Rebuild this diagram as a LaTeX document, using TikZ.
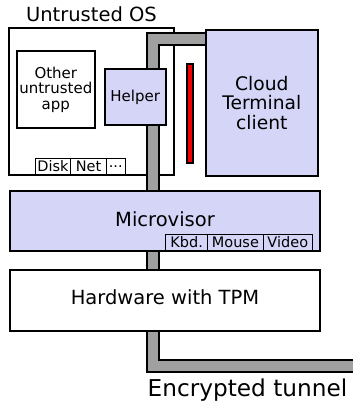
\documentclass[tikz,border=0pt]{standalone}
\usepackage{fontspec}
\setmainfont{DejaVu Sans}
\usepackage{xcolor}
\definecolor{trustfill}{RGB}{213,213,248}
\definecolor{tunnelgray}{RGB}{160,160,160}
\definecolor{alertred}{RGB}{240,0,0}
\usetikzlibrary{calc,positioning,backgrounds}
\tikzset{
  box/.style      = {draw,line width=2pt,fill=white,inner sep=0pt,align=center},
  trusted/.style  = {box,fill=trustfill},
  smalltxt/.style = {font=\fontsize{15}{15.5}\selectfont},
  port/.style     = {draw,line width=0.8pt,inner sep=0pt,outer sep=0pt,
                     minimum height=16.5pt,font=\fontsize{14.5}{15}\selectfont},
  tunnel/.style   = {line width=2pt,double=tunnelgray,double distance=10pt},
}

\begin{document}
\begin{tikzpicture}[x=1pt,y=-1pt,font=\fontsize{19.5}{20}\selectfont]
  \useasboundingbox (0,0) rectangle (353,404);

  % trusted side
  \node[trusted,smalltxt,minimum width=61pt,minimum height=56.3pt]
        (helper) at (135.2,97.2) {Helper};
  \node[box,fill=alertred,minimum width=6.2pt,minimum height=98.5pt]
        (seclight) at (190.1,113.7) {};
  \node[trusted,minimum width=112.3pt,minimum height=146.6pt,
        font=\fontsize{18.7}{19.3}\selectfont]
        (cloud) at (261.8,103) {Cloud\\Terminal\\client};

  % microvisor with its devices
  \node[trusted,minimum width=309.4pt,minimum height=60pt,text depth=4pt]
        (mv) at (165,221.3) {Microvisor};
  \node[port,minimum width=41.8pt,anchor=south west] (kbd) at (165.7,250.5) {Kbd.};
  \node[port,minimum width=55.8pt,right=0pt of kbd] (mouse) {Mouse};
  \node[port,minimum width=49pt,right=0pt of mouse] (video) {Video};

  \node[box,minimum width=309.4pt,minimum height=61.2pt,text depth=7pt]
        (hw) at (165,300.4) {Hardware with TPM};

  % untrusted OS and the tunnel go underneath
  \begin{scope}[on background layer]
    \node[box,minimum width=165.5pt,minimum height=146.7pt] (os) at (91.45,101.35) {};
    \node[anchor=base] (ostitle) at ($(os.north)+(0,-5.3)$) {Untrusted OS};
    \node[box,smalltxt,minimum width=77.7pt,minimum height=76.7pt]
          (app) at (55.8,89.7) {Other\\untrusted\\app};
    \node[port,minimum width=35pt,anchor=south west] (disk) at (35.5,174.7) {Disk};
    \node[port,minimum width=36pt,right=0pt of disk] (net) {Net};
    \node[port,minimum width=18.5pt,right=0pt of net] (more) {...};

    \coordinate (bend) at (152.8,365.5);
    \coordinate (tunnelend) at (358,365.5);
    \draw[tunnel] ($(cloud.north west)+(10,10)$) -| (bend) -- (tunnelend);
  \end{scope}

  \node[font=\fontsize{23.2}{24}\selectfont,anchor=base]
        (tunnellbl) at (247.5,396.7) {Encrypted tunnel};
\end{tikzpicture}
\end{document}
